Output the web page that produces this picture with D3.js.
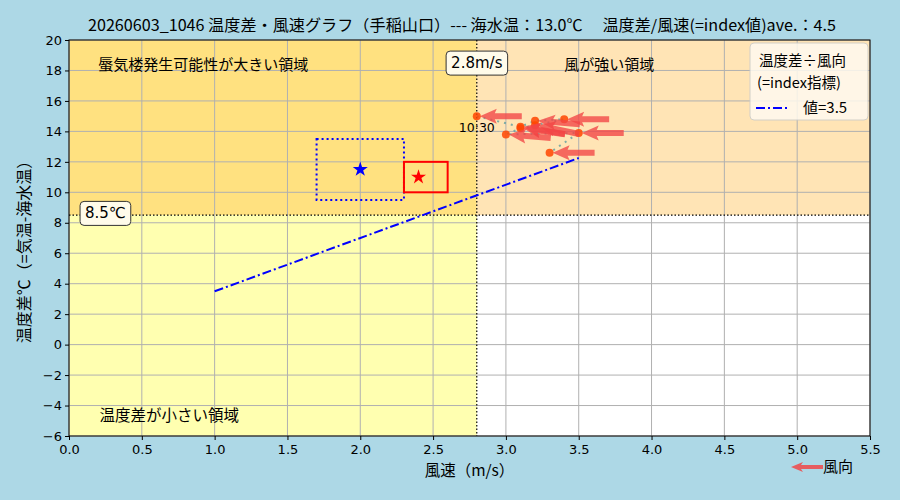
<!DOCTYPE html>
<html>
<head>
<meta charset="utf-8">
<script src="https://cdn.jsdelivr.net/npm/d3@7"></script>
<style>
  body { margin: 0; background: #add8e6; }
  text { font-family: "DejaVu Sans", "Noto Sans CJK JP", sans-serif; }
  .jp { font-family: "Noto Sans CJK JP", "DejaVu Sans", sans-serif; }
</style>
</head>
<body>
<div id="chart"></div>
<script>
// data
var times = ["10:30", "", "", "", "", "", "", "", ""];
var windSpeed = [2.8, 3.1, 3.2, 3.4, 3.2, 3.1, 3.0, 3.5, 3.3];
var tempDiff = [15.0, 14.3, 14.7, 14.8, 14.4, 14.2, 13.8, 13.9, 12.6];
var windDir = [90, 80, 85, 90, 78, 82, 85, 90, 90]; // wind from (deg)

var xTicks = [0.0, 0.5, 1.0, 1.5, 2.0, 2.5, 3.0, 3.5, 4.0, 4.5, 5.0, 5.5];
var yTicks = [-6, -4, -2, 0, 2, 4, 6, 8, 10, 12, 14, 16, 18, 20];

var speedLimit = 2.8;
var diffLimit = 8.5;
var indexValue = 3.5;
var indexLineX = [1.0, 3.5];

var avgBox = {x0: 1.7, x1: 2.3, y0: 9.5, y1: 13.5, sx: 2.0, sy: 11.5};
var nowBox = {x0: 2.3, x1: 2.6, y0: 10.0, y1: 12.0, sx: 2.4, sy: 11.0};

var svgWidth = 900, svgHeight = 500;
var margin = {top: 40, right: 30, bottom: 64, left: 69};
var width = svgWidth - margin.left - margin.right;
var height = svgHeight - margin.top - margin.bottom;

var svg = d3.select("#chart").append("svg")
  .attr("width", svgWidth).attr("height", svgHeight);

var g = svg.append("g").attr("transform", `translate(${margin.left},${margin.top})`);

var x = d3.scaleLinear().domain([0, 5.5]).range([0, width]);
var y = d3.scaleLinear().domain([-6, 20]).range([height, 0]);

// background regions
g.append("rect").attr("x", 0).attr("y", 0).attr("width", width).attr("height", height).attr("fill", "#fff");
g.append("rect").attr("x", 0).attr("y", y(20)).attr("width", x(speedLimit)).attr("height", y(diffLimit) - y(20)).attr("fill", "#ffe180");
g.append("rect").attr("x", x(speedLimit)).attr("y", y(20)).attr("width", width - x(speedLimit)).attr("height", y(diffLimit) - y(20)).attr("fill", "#ffe4b5");
g.append("rect").attr("x", 0).attr("y", y(diffLimit)).attr("width", x(speedLimit)).attr("height", height - y(diffLimit)).attr("fill", "#ffffb0");

// grid
g.selectAll(".gx").data(xTicks).enter().append("line")
  .attr("x1", d => x(d)).attr("x2", d => x(d)).attr("y1", 0).attr("y2", height)
  .attr("stroke", "#b0b0b0").attr("stroke-width", 1);
g.selectAll(".gy").data(yTicks).enter().append("line")
  .attr("y1", d => y(d)).attr("y2", d => y(d)).attr("x1", 0).attr("x2", width)
  .attr("stroke", "#b0b0b0").attr("stroke-width", 1);

// limit lines
g.append("line").attr("x1", x(speedLimit)).attr("x2", x(speedLimit)).attr("y1", 0).attr("y2", height)
  .attr("stroke", "#000").attr("stroke-width", 1.2).attr("stroke-dasharray", "1.5,2");
g.append("line").attr("x1", 0).attr("x2", width).attr("y1", y(diffLimit)).attr("y2", y(diffLimit))
  .attr("stroke", "#000").attr("stroke-width", 1.2).attr("stroke-dasharray", "1.5,2");

// index line
g.append("line")
  .attr("x1", x(indexLineX[0])).attr("y1", y(indexLineX[0] * indexValue))
  .attr("x2", x(indexLineX[1])).attr("y2", y(indexLineX[1] * indexValue))
  .attr("stroke", "blue").attr("stroke-width", 2).attr("stroke-dasharray", "9,3,2,3");

// boxes
g.append("rect").attr("x", x(avgBox.x0)).attr("y", y(avgBox.y1))
  .attr("width", x(avgBox.x1) - x(avgBox.x0)).attr("height", y(avgBox.y0) - y(avgBox.y1))
  .attr("fill", "none").attr("stroke", "blue").attr("stroke-width", 2).attr("stroke-dasharray", "2,3");
g.append("rect").attr("x", x(nowBox.x0)).attr("y", y(nowBox.y1))
  .attr("width", x(nowBox.x1) - x(nowBox.x0)).attr("height", y(nowBox.y0) - y(nowBox.y1))
  .attr("fill", "none").attr("stroke", "red").attr("stroke-width", 2);

var star = d3.symbol().type(d3.symbolStar).size(70);
g.append("path").attr("d", star).attr("transform", `translate(${x(avgBox.sx)},${y(avgBox.sy)})`).attr("fill", "blue");
g.append("path").attr("d", star).attr("transform", `translate(${x(nowBox.sx)},${y(nowBox.sy)})`).attr("fill", "red");

// data path
var pts = windSpeed.map((s, i) => ({s: s, t: tempDiff[i], d: windDir[i], time: times[i]}));
g.append("path").datum(pts)
  .attr("d", d3.line().x(d => x(d.s)).y(d => y(d.t)))
  .attr("fill", "none").attr("stroke", "#5f9ea0").attr("stroke-width", 2).attr("stroke-dasharray", "2,5")
  .attr("opacity", 0.8);

g.selectAll(".pt").data(pts).enter().append("circle")
  .attr("cx", d => x(d.s)).attr("cy", d => y(d.t)).attr("r", 4)
  .attr("fill", "#ff4500").attr("opacity", 0.85);

// wind arrows, tip at point, pointing downwind
var arrowShape = "M0,0 L17,-7.5 L15,-3 L42,-3 L42,3 L15,3 L17,7.5 Z";
g.selectAll(".arr").data(pts).enter().append("path")
  .attr("d", arrowShape)
  .attr("transform", d => `translate(${x(d.s) + 3},${y(d.t)}) rotate(${90 - d.d})`)
  .attr("fill", "#f24545").attr("opacity", 0.78);

g.selectAll(".tl").data(pts.filter(d => d.time)).enter().append("text")
  .attr("x", d => x(d.s)).attr("y", d => y(d.t) + 16)
  .attr("text-anchor", "middle").attr("font-size", 12.5).text(d => d.time);

// frame
g.append("rect").attr("width", width).attr("height", height).attr("fill", "none").attr("stroke", "#000").attr("stroke-width", 1);

// axes
var xAxis = g.append("g").attr("transform", `translate(0,${height})`)
  .call(d3.axisBottom(x).tickValues(xTicks).tickFormat(d3.format(".1f")).tickSize(4).tickPadding(5));
var yAxis = g.append("g").call(d3.axisLeft(y).tickValues(yTicks).tickSize(4));
[xAxis, yAxis].forEach(a => {
  a.select(".domain").remove();
  a.selectAll("text").attr("font-size", 13).attr("fill", "#000").attr("font-family", "DejaVu Sans");
  a.selectAll("line").attr("stroke", "#000");
});

// region labels
g.append("text").attr("class", "jp").attr("x", x(0.2)).attr("y", y(18.0)).attr("font-size", 15)
  .text("蜃気楼発生可能性が大きい領域");
g.append("text").attr("class", "jp").attr("x", x(3.4)).attr("y", y(18.0)).attr("font-size", 15)
  .text("風が強い領域");
g.append("text").attr("class", "jp").attr("x", x(0.21)).attr("y", y(-5.0)).attr("font-size", 15.5)
  .text("温度差が小さい領域");

// boxed labels
function boxLabel(cx, cy, txt) {
  var t = g.append("text").attr("x", cx).attr("y", cy).attr("dy", "0.35em")
    .attr("text-anchor", "middle").attr("font-size", 15).text(txt);
  var b = t.node().getBBox();
  g.insert("rect", () => t.node())
    .attr("x", b.x - 5).attr("y", b.y - 3).attr("width", b.width + 10).attr("height", b.height + 6)
    .attr("rx", 4).attr("fill", "#fffbea").attr("stroke", "#333").attr("stroke-width", 1);
}
boxLabel(x(speedLimit), y(18.5), speedLimit.toFixed(1) + "m/s");
boxLabel(x(0.25), y(diffLimit) - 2, diffLimit.toFixed(1) + "℃");

// legend
var lg = g.append("g").attr("transform", `translate(${width - 120},3)`);
lg.append("rect").attr("width", 118).attr("height", 77).attr("rx", 4)
  .attr("fill", "#fffaf0").attr("opacity", 0.85).attr("stroke", "#ccc");
lg.append("text").attr("class", "jp").attr("x", 9).attr("y", 23).attr("font-size", 14.5).text("温度差÷風向");
lg.append("text").attr("class", "jp").attr("x", 7).attr("y", 45).attr("font-size", 14.5).text("(=index指標)");
lg.append("line").attr("x1", 6).attr("x2", 40).attr("y1", 65).attr("y2", 65)
  .attr("stroke", "blue").attr("stroke-width", 2).attr("stroke-dasharray", "9,3,2,3");
lg.append("text").attr("class", "jp").attr("x", 53).attr("y", 70).attr("font-size", 15).text("値=" + indexValue);

// axis titles
svg.append("text").attr("class", "jp").attr("x", margin.left + width / 2).attr("y", 476)
  .attr("text-anchor", "middle").attr("font-size", 15.5).text("風速（m/s）");
svg.append("text").attr("class", "jp")
  .attr("transform", `translate(30,${margin.top + height / 2 + 10}) rotate(-90)`)
  .attr("text-anchor", "middle").attr("font-size", 16).text("温度差℃（=気温-海水温）");

// title
svg.append("text").attr("class", "jp").attr("x", 462).attr("y", 31)
  .attr("text-anchor", "middle").attr("font-size", 15.5)
  .attr("textLength", 748).attr("lengthAdjust", "spacingAndGlyphs")
  .text("20260603_1046 温度差・風速グラフ（手稲山口）--- 海水温：13.0℃　 温度差/風速(=index値)ave.：4.5");

// wind direction key
svg.append("path").attr("d", "M0,0 L12,-5 L10,-2 L32,-2 L32,2 L10,2 L12,5 Z")
  .attr("transform", "translate(791,467)").attr("fill", "#f04848").attr("opacity", 0.85);
svg.append("text").attr("class", "jp").attr("x", 823).attr("y", 472).attr("font-size", 15).text("風向");
</script>
</body>
</html>
